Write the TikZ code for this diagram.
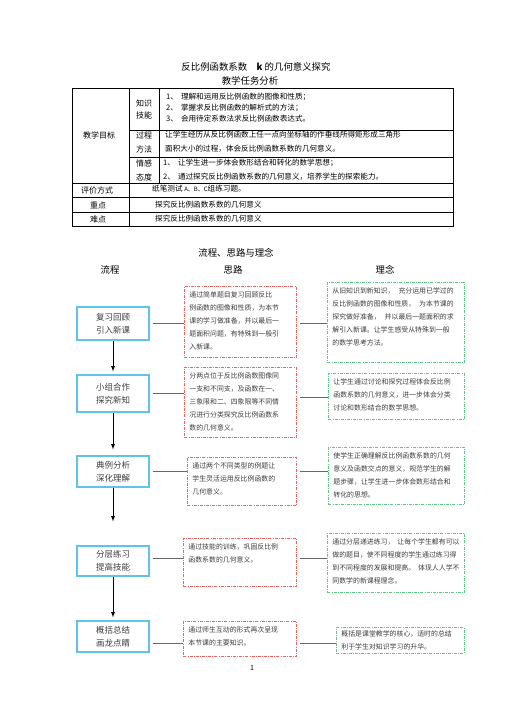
\documentclass[tikz,border=0pt]{standalone}
\usepackage{fontspec}
\setmainfont{Noto Sans CJK SC}
\usetikzlibrary{arrows}
\definecolor{flowblue}{RGB}{95,195,235}
\definecolor{ideared}{RGB}{235,100,100}
\definecolor{notegreen}{RGB}{95,200,135}
\definecolor{linegray}{RGB}{105,105,105}
\definecolor{textgray}{RGB}{60,60,60}
\newcommand{\boxlines}[3]{\parbox[c][#1][t]{#2}{#3}}

\begin{document}
\begin{tikzpicture}[x=1pt,y=-1pt,
  every node/.style={inner sep=0pt},
  title/.style={font=\fontsize{9.4}{11}\selectfont},
  cell/.style={font=\fontsize{7.6}{9}\selectfont,anchor=west},
  head/.style={font=\fontsize{8}{9}\selectfont},
  grid/.style={line width=0.6pt},
  flow/.style={draw=flowblue,line width=1.2pt,minimum width=72pt,align=center,font=\fontsize{8.5}{13}\selectfont,text=textgray},
  idea/.style={draw=ideared,line width=0.8pt,dash pattern=on 3pt off 1.2pt on 0.8pt off 1.2pt,anchor=north west,inner xsep=5pt,inner ysep=5pt,font=\fontsize{6.9}{13}\selectfont,text=textgray},
  note/.style={idea,draw=notegreen},
  link/.style={draw=linegray,line width=0.7pt,shorten <=3pt},
  down/.style={->,>=latex,line width=0.8pt,shorten >=3pt}]
\useasboundingbox (0,0) rectangle (505,714);

% titles
\node[title] (0) at (256,67) {反比例函数系数\quad\textbf{k} 的几何意义探究};
\node[title] (01) at (250,81) {教学任务分析};

% table
\draw[grid] (72,88) rectangle (453,226);
\draw[grid] (129,88) -- (129,226);
\draw[grid] (159,88) -- (159,183);
\draw[grid] (129,130) -- (453,130);
\draw[grid] (129,157) -- (453,157);
\draw[grid] (72,183) -- (453,183);
\draw[grid] (72,197) -- (453,197);
\draw[grid] (72,212) -- (453,212);

\node[head] (30) at (99,135) {教学目标};
\node[head] (31) at (144,103) {知识};
\node[head] (32) at (144,115) {技能};
\node[head] (33) at (144,135) {过程};
\node[head] (34) at (144,149) {方法};
\node[head] (35) at (144,163) {情感};
\node[head] (36) at (144,177) {态度};
\node[head] (37) at (97,190) {评价方式};
\node[head] (38) at (98,205) {重点};
\node[head] (39) at (98,219) {难点};

\node[cell] (41) at (166,97) {1、\kern3pt理解和运用反比例函数的图像和性质；};
\node[cell] (42) at (166,108) {2、\kern3pt掌握求反比例函数的解析式的方法；};
\node[cell] (43) at (166,119) {3、\kern3pt会用待定系数法求反比例函数表达式。};
\node[cell] (44) at (165,135) {让学生经历从反比例函数上任一点向坐标轴的作垂线所得矩形成三角形};
\node[cell] (45) at (165,149) {面积大小的过程，体会反比例函数系数的几何意义。};
\node[cell] (46) at (163,163) {1、\kern3pt让学生进一步体会数形结合和转化的数学思想；};
\node[cell] (47) at (163,177) {2、\kern3pt通过探究反比例函数系数的几何意义，培养学生的探索能力。};
\node[cell] (48) at (152,189) {纸笔测试 {\fontsize{6}{7}\selectfont A、B、C}组练习题。};
\node[cell] (49) at (155,205) {探究反比例函数系数的几何意义};
\node[cell] (50) at (155,219) {探究反比例函数系数的几何意义};

% flow, ideas, notions
\node[title] (60) at (236,253) {流程、思路与理念};
\node[title] (61) at (110,270) {流程};
\node[title] (62) at (233,270) {思路};
\node[title] (63) at (385,270) {理念};

\node[flow,minimum height=33pt] (1) at (113,323.5) {复习回顾\\引入新课};
\node[flow,minimum height=37pt] (2) at (113,393.5) {小组合作\\探究新知};
\node[flow,minimum height=31pt] (3) at (113,471.5) {典例分析\\深化理解};
\node[flow,minimum height=30pt] (4) at (113,561) {分层练习\\提高技能};
\node[flow,minimum height=31pt] (5) at (113,636.5) {概括总结\\画龙点睛};

\node[idea] (11) at (184,286) {\boxlines{61pt}{102pt}{通过简单题目复习回顾反比\\例函数的图像和性质，为本节\\课的学习做准备，并以最后一\\题面积问题，有特殊到一般引\\入新课。}};
\node[idea] (12) at (184,367) {\boxlines{60pt}{102pt}{分两点位于反比例函数图像同\\一支和不同支，及函数在一、\\三象限和二、四象限等不同情\\况进行分类探究反比例函数系\\数的几何意义。}};
\node[idea] (13) at (187,457) {\boxlines{38pt}{99pt}{通过两个不同类型的例题让\\学生灵活运用反比例函数的\\几何意义。}};
\node[idea] (14) at (183,538) {\boxlines{38pt}{103pt}{通过技能的训练，巩固反比例\\函数系数的几何意义。}};
\node[idea] (15) at (183,621) {\boxlines{25pt}{103pt}{通过师生互动的形式再次呈现\\本节课的主要知识。}};

\node[note] (21) at (327,282) {\boxlines{70pt}{127pt}{从旧知识到新知识，\kern4pt充分运用已学过的\\反比例函数的图像和性质，\kern4pt为本节课的\\探究做好准备，\kern4pt并以最后一题面积的求\\解引入新课。让学生感受从特殊到一般\\的数学思考方法。}};
\node[note] (22) at (328,373) {\boxlines{36pt}{126pt}{让学生通过讨论和探究过程体会反比例\\函数系数的几何意义，进一步体会分类\\讨论和数形结合的数学思想。}};
\node[note] (23) at (328,447) {\boxlines{47pt}{126pt}{使学生正确理解反比例函数系数的几何\\意义及函数交点的意义，规范学生的解\\题步骤，让学生进一步体会数形结合和\\转化的思想。}};
\node[note] (24) at (327,533) {\boxlines{49pt}{127pt}{通过分层递进练习，\kern3pt让每个学生都有可以\\做的题目，使不同程度的学生通过练习得\\到不同程度的发展和提高。\kern3pt体现人人学不\\同数学的新课程理念。}};
\node[note,inner ysep=3pt] (25) at (336,627) {\boxlines{20pt}{118pt}{概括是课堂教学的核心，适时的总结\\利于学生对知识学习的升华。}};

\draw[down] (1)--(2);
\draw[down,shorten >=6pt] (2)--(3);
\draw[down,shorten >=24pt] (3)--(4);
\draw[down] (4)--(5);

\draw[link] (1.east) -- (1.east -| 11.west);
\draw[link] (1.east -| 11.east) -- (1.east -| 21.west);
\draw[link] (2.east) -- (2.east -| 12.west);
\draw[link] ([yshift=-4pt]2.east -| 12.east) -- ([yshift=-4pt]2.east -| 22.west);
\draw[link] (3.east) -- (3.east -| 13.west);
\draw[link] (3.east -| 13.east) -- (3.east -| 23.west);
\draw[link] ([yshift=3pt]4.east) -- ([yshift=3pt]4.east -| 14.west);
\draw[link] ([yshift=3pt]4.east -| 14.east) -- ([yshift=3pt]4.east -| 24.west);
\draw[link] ([yshift=-7pt]5.east) -- ([yshift=-7pt]5.east -| 15.west);
\draw[link] ([yshift=-7pt]5.east -| 15.east) -- ([yshift=-7pt]5.east -| 25.west);

\node[font=\fontsize{7}{8}\selectfont] (9) at (252,668) {1};
\end{tikzpicture}
\end{document}
